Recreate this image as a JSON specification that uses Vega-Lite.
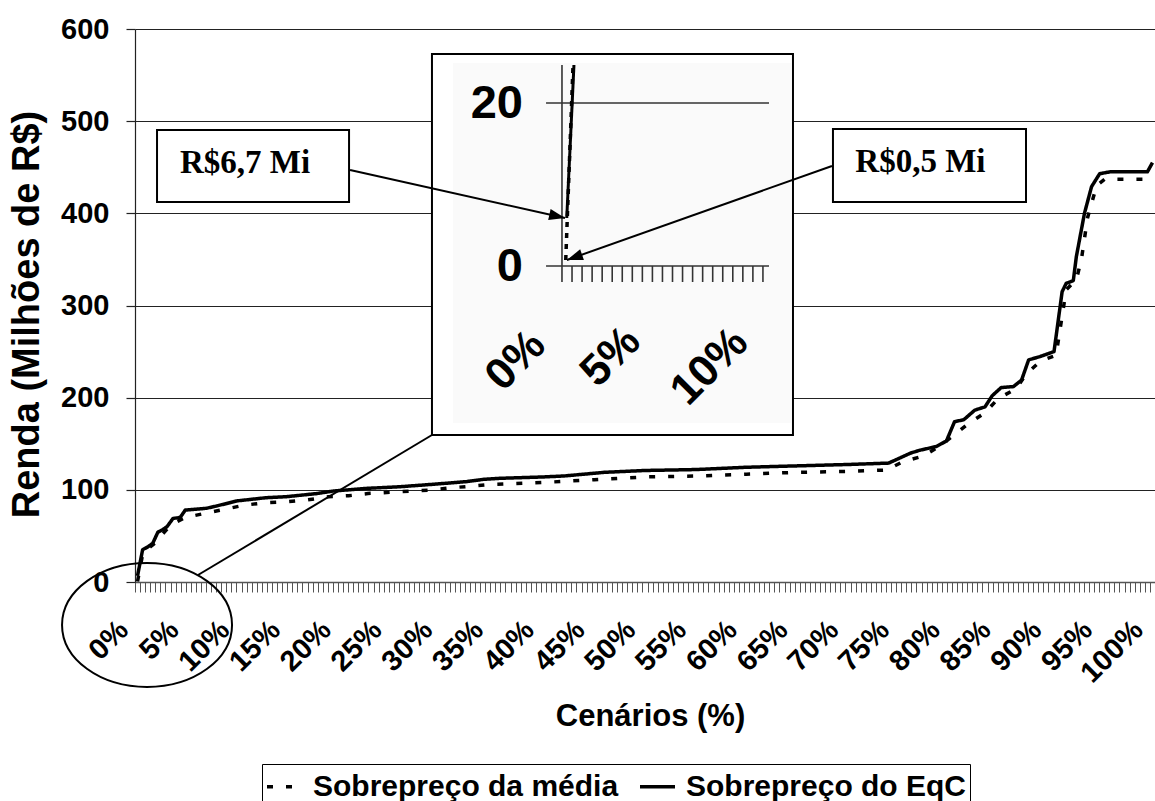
{
  "$schema": "https://vega.github.io/schema/vega-lite/v6.json",
  "autosize": {"type": "none"},
  "padding": {"left": 135, "top": 29, "right": 0, "bottom": 219},
  "width": 1020,
  "height": 553,
  "background": "white",
  "config": {"view": {"stroke": null}, "font": "Liberation Sans"},
  "datasets": {
    "serie": [
      {"x": 0, "y": 0.5, "s": "Sobrepreço da média"},
      {"x": 0.5, "y": 30, "s": "Sobrepreço da média"},
      {"x": 1, "y": 36, "s": "Sobrepreço da média"},
      {"x": 1.7, "y": 42, "s": "Sobrepreço da média"},
      {"x": 2.3, "y": 50, "s": "Sobrepreço da média"},
      {"x": 3, "y": 58.6, "s": "Sobrepreço da média"},
      {"x": 3.8, "y": 65, "s": "Sobrepreço da média"},
      {"x": 4.7, "y": 70, "s": "Sobrepreço da média"},
      {"x": 6.65, "y": 74.5, "s": "Sobrepreço da média"},
      {"x": 8.6, "y": 79, "s": "Sobrepreço da média"},
      {"x": 10.6, "y": 83.5, "s": "Sobrepreço da média"},
      {"x": 12.7, "y": 86, "s": "Sobrepreço da média"},
      {"x": 14.7, "y": 87, "s": "Sobrepreço da média"},
      {"x": 16.7, "y": 89, "s": "Sobrepreço da média"},
      {"x": 18.8, "y": 92.5, "s": "Sobrepreço da média"},
      {"x": 20.8, "y": 93.6, "s": "Sobrepreço da média"},
      {"x": 22.7, "y": 96, "s": "Sobrepreço da média"},
      {"x": 24.9, "y": 97.3, "s": "Sobrepreço da média"},
      {"x": 26.9, "y": 98.7, "s": "Sobrepreço da média"},
      {"x": 28.8, "y": 99.8, "s": "Sobrepreço da média"},
      {"x": 31, "y": 102.3, "s": "Sobrepreço da média"},
      {"x": 32.9, "y": 104, "s": "Sobrepreço da média"},
      {"x": 35, "y": 106, "s": "Sobrepreço da média"},
      {"x": 40, "y": 108, "s": "Sobrepreço da média"},
      {"x": 45, "y": 111, "s": "Sobrepreço da média"},
      {"x": 50, "y": 114, "s": "Sobrepreço da média"},
      {"x": 55, "y": 115, "s": "Sobrepreço da média"},
      {"x": 60, "y": 117, "s": "Sobrepreço da média"},
      {"x": 65, "y": 119, "s": "Sobrepreço da média"},
      {"x": 70, "y": 120, "s": "Sobrepreço da média"},
      {"x": 73.8, "y": 121.5, "s": "Sobrepreço da média"},
      {"x": 75.4, "y": 130.5, "s": "Sobrepreço da média"},
      {"x": 77.4, "y": 136.7, "s": "Sobrepreço da média"},
      {"x": 79, "y": 147, "s": "Sobrepreço da média"},
      {"x": 81.9, "y": 172, "s": "Sobrepreço da média"},
      {"x": 83.5, "y": 183.7, "s": "Sobrepreço da média"},
      {"x": 84.8, "y": 199, "s": "Sobrepreço da média"},
      {"x": 86.6, "y": 210, "s": "Sobrepreço da média"},
      {"x": 87.5, "y": 225, "s": "Sobrepreço da média"},
      {"x": 89, "y": 240, "s": "Sobrepreço da média"},
      {"x": 90.5, "y": 246, "s": "Sobrepreço da média"},
      {"x": 91.5, "y": 317, "s": "Sobrepreço da média"},
      {"x": 92.5, "y": 328, "s": "Sobrepreço da média"},
      {"x": 93, "y": 350, "s": "Sobrepreço da média"},
      {"x": 93.6, "y": 395, "s": "Sobrepreço da média"},
      {"x": 94.5, "y": 430, "s": "Sobrepreço da média"},
      {"x": 95.3, "y": 437, "s": "Sobrepreço da média"},
      {"x": 100, "y": 437, "s": "Sobrepreço da média"},
      {"x": 0, "y": 6.7, "s": "Sobrepreço do EqC"},
      {"x": 0.5, "y": 35, "s": "Sobrepreço do EqC"},
      {"x": 1, "y": 38, "s": "Sobrepreço do EqC"},
      {"x": 1.5, "y": 42, "s": "Sobrepreço do EqC"},
      {"x": 2, "y": 54, "s": "Sobrepreço do EqC"},
      {"x": 2.5, "y": 57, "s": "Sobrepreço do EqC"},
      {"x": 2.9, "y": 60, "s": "Sobrepreço do EqC"},
      {"x": 3.5, "y": 69, "s": "Sobrepreço do EqC"},
      {"x": 4.2, "y": 70, "s": "Sobrepreço do EqC"},
      {"x": 4.7, "y": 78, "s": "Sobrepreço do EqC"},
      {"x": 6.8, "y": 80, "s": "Sobrepreço do EqC"},
      {"x": 7.8, "y": 82.5, "s": "Sobrepreço do EqC"},
      {"x": 9.8, "y": 88, "s": "Sobrepreço do EqC"},
      {"x": 12.7, "y": 91.5, "s": "Sobrepreço do EqC"},
      {"x": 14.7, "y": 92.6, "s": "Sobrepreço do EqC"},
      {"x": 17.7, "y": 96, "s": "Sobrepreço do EqC"},
      {"x": 19.3, "y": 98.7, "s": "Sobrepreço do EqC"},
      {"x": 22.6, "y": 101.6, "s": "Sobrepreço do EqC"},
      {"x": 25.9, "y": 103.4, "s": "Sobrepreço do EqC"},
      {"x": 29.1, "y": 106, "s": "Sobrepreço do EqC"},
      {"x": 32.4, "y": 108.9, "s": "Sobrepreço do EqC"},
      {"x": 34.1, "y": 111.4, "s": "Sobrepreço do EqC"},
      {"x": 35.7, "y": 112.5, "s": "Sobrepreço do EqC"},
      {"x": 40, "y": 114, "s": "Sobrepreço do EqC"},
      {"x": 42, "y": 115, "s": "Sobrepreço do EqC"},
      {"x": 44, "y": 117, "s": "Sobrepreço do EqC"},
      {"x": 46, "y": 119, "s": "Sobrepreço do EqC"},
      {"x": 48, "y": 120, "s": "Sobrepreço do EqC"},
      {"x": 50, "y": 121, "s": "Sobrepreço do EqC"},
      {"x": 55, "y": 122, "s": "Sobrepreço do EqC"},
      {"x": 60, "y": 124.5, "s": "Sobrepreço do EqC"},
      {"x": 65, "y": 126, "s": "Sobrepreço do EqC"},
      {"x": 70, "y": 127.5, "s": "Sobrepreço do EqC"},
      {"x": 74, "y": 129, "s": "Sobrepreço do EqC"},
      {"x": 76.2, "y": 140, "s": "Sobrepreço do EqC"},
      {"x": 77.1, "y": 143, "s": "Sobrepreço do EqC"},
      {"x": 78.7, "y": 147, "s": "Sobrepreço do EqC"},
      {"x": 79.7, "y": 153, "s": "Sobrepreço do EqC"},
      {"x": 80.5, "y": 174, "s": "Sobrepreço do EqC"},
      {"x": 81.4, "y": 176, "s": "Sobrepreço do EqC"},
      {"x": 82.5, "y": 186.5, "s": "Sobrepreço do EqC"},
      {"x": 83.5, "y": 190, "s": "Sobrepreço do EqC"},
      {"x": 84.2, "y": 202, "s": "Sobrepreço do EqC"},
      {"x": 85.1, "y": 211, "s": "Sobrepreço do EqC"},
      {"x": 86.3, "y": 212, "s": "Sobrepreço do EqC"},
      {"x": 87.1, "y": 219, "s": "Sobrepreço do EqC"},
      {"x": 87.8, "y": 241, "s": "Sobrepreço do EqC"},
      {"x": 88.9, "y": 244.5, "s": "Sobrepreço do EqC"},
      {"x": 90.3, "y": 250, "s": "Sobrepreço do EqC"},
      {"x": 91.1, "y": 315, "s": "Sobrepreço do EqC"},
      {"x": 91.5, "y": 324, "s": "Sobrepreço do EqC"},
      {"x": 92.2, "y": 327, "s": "Sobrepreço do EqC"},
      {"x": 92.5, "y": 353, "s": "Sobrepreço do EqC"},
      {"x": 93.3, "y": 400, "s": "Sobrepreço do EqC"},
      {"x": 94, "y": 429, "s": "Sobrepreço do EqC"},
      {"x": 94.8, "y": 443, "s": "Sobrepreço do EqC"},
      {"x": 95.8, "y": 445, "s": "Sobrepreço do EqC"},
      {"x": 99.5, "y": 445, "s": "Sobrepreço do EqC"},
      {"x": 100, "y": 455, "s": "Sobrepreço do EqC"}
    ],
    "insetRules": [
      {"x": 41.82, "y": 325.5, "x2": 41.82, "y2": 560.9},
      {"x": 40.25, "y": 519.7, "x2": 62.22, "y2": 519.7},
      {"x": 40.25, "y": 342.9, "x2": 62.22, "y2": 342.9},
      {"x": 42.81, "y": 325.5, "x2": 42.81, "y2": 342.9},
      {"x": 43.8, "y": 325.5, "x2": 43.8, "y2": 342.9},
      {"x": 44.79, "y": 325.5, "x2": 44.79, "y2": 342.9},
      {"x": 45.78, "y": 325.5, "x2": 45.78, "y2": 342.9},
      {"x": 46.77, "y": 325.5, "x2": 46.77, "y2": 342.9},
      {"x": 47.76, "y": 325.5, "x2": 47.76, "y2": 342.9},
      {"x": 48.75, "y": 325.5, "x2": 48.75, "y2": 342.9},
      {"x": 49.74, "y": 325.5, "x2": 49.74, "y2": 342.9},
      {"x": 50.73, "y": 325.5, "x2": 50.73, "y2": 342.9},
      {"x": 51.72, "y": 325.5, "x2": 51.72, "y2": 342.9},
      {"x": 52.71, "y": 325.5, "x2": 52.71, "y2": 342.9},
      {"x": 53.7, "y": 325.5, "x2": 53.7, "y2": 342.9},
      {"x": 54.69, "y": 325.5, "x2": 54.69, "y2": 342.9},
      {"x": 55.68, "y": 325.5, "x2": 55.68, "y2": 342.9},
      {"x": 56.67, "y": 325.5, "x2": 56.67, "y2": 342.9},
      {"x": 57.66, "y": 325.5, "x2": 57.66, "y2": 342.9},
      {"x": 58.65, "y": 325.5, "x2": 58.65, "y2": 342.9},
      {"x": 59.64, "y": 325.5, "x2": 59.64, "y2": 342.9},
      {"x": 60.63, "y": 325.5, "x2": 60.63, "y2": 342.9},
      {"x": 61.62, "y": 325.5, "x2": 61.62, "y2": 342.9}
    ]
  },
  "encoding": {
    "x": {
      "field": "x", "type": "quantitative",
      "scale": {"domain": [-0.25, 100.25], "nice": false, "zero": false},
      "axis": {
        "title": "Cenários (%)",
        "values": {"expr": "sequence(-0.25, 100.3, 0.5)"},
        "labelExpr": "(datum.value + 0.25) % 5 === 0 ? (datum.value + 0.25) + '%' : ''",
        "grid": false,
        "domainColor": "#555", "domainWidth": 1.5,
        "tickColor": "#555", "tickWidth": 1, "tickSize": 10,
        "labelAngle": -45, "labelAlign": "right", "labelBaseline": "middle",
        "labelPadding": 33, "labelOffset": -12,
        "labelFont": "Liberation Sans", "labelFontWeight": "bold", "labelFontSize": 29, "labelColor": "black",
        "labelOverlap": false, "labelFlush": false, "labelBound": false,
        "titleFont": "Liberation Sans", "titleFontWeight": "bold", "titleFontSize": 31, "titleColor": "black",
        "titleX": 515, "titleY": 134, "titleAlign": "center", "titleBaseline": "middle", "titleAnchor": null
      }
    },
    "y": {
      "field": "y", "type": "quantitative",
      "scale": {"domain": [0, 600], "nice": false, "zero": false},
      "axis": {
        "title": "Renda (Milhões de R$)",
        "values": [0, 100, 200, 300, 400, 500, 600],
        "grid": true, "gridColor": "#222", "gridWidth": 1.2,
        "domainColor": "#222", "domainWidth": 1.2,
        "tickColor": "#222", "tickWidth": 1.2, "tickSize": 9,
        "labelPadding": 17,
        "labelFont": "Liberation Sans", "labelFontWeight": "bold", "labelFontSize": 29, "labelColor": "black",
        "labelOverlap": false, "labelFlush": false, "labelBound": false,
        "titleFont": "Liberation Sans", "titleFontWeight": "bold", "titleFontSize": 38, "titleColor": "black",
        "titleX": -108, "titleY": 285, "titleAngle": -90, "titleAlign": "center", "titleBaseline": "middle"
      }
    }
  },
  "layer": [
    {
      "data": {"name": "serie"},
      "mark": {"type": "line", "color": "black", "strokeWidth": 3.5, "strokeCap": "butt", "strokeJoin": "round"},
      "encoding": {
        "strokeDash": {
          "field": "s", "type": "nominal",
          "scale": {"domain": ["Sobrepreço da média", "Sobrepreço do EqC"], "range": [[6, 13], [1, 0]]},
          "legend": {
            "title": null, "orient": "none", "legendX": 127, "legendY": 735, "direction": "horizontal",
            "strokeColor": "black", "padding": 3,
            "labelFont": "Liberation Sans", "labelFontSize": 30, "labelFontWeight": "bold", "labelColor": "black",
            "labelLimit": 1000, "labelOffset": 9,
            "symbolType": "stroke", "symbolSize": 1225, "symbolStrokeWidth": 3.5, "symbolStrokeColor": "black",
            "columnPadding": 14
          }
        }
      }
    },
    {
      "data": {"values": [{"x": 29.01, "x2": 64.58, "y": 159.5, "y2": 572.9}]},
      "mark": {"type": "rect", "fill": "white", "stroke": "black", "strokeWidth": 2},
      "encoding": {"x2": {"field": "x2"}, "y2": {"field": "y2"}}
    },
    {
      "data": {"values": [{"x": 31.08, "x2": 64.38, "y": 172.5, "y2": 563.1}]},
      "mark": {"type": "rect", "fill": "#fafafa", "strokeWidth": 0},
      "encoding": {"x2": {"field": "x2"}, "y2": {"field": "y2"}}
    },
    {
      "data": {"name": "insetRules"},
      "mark": {"type": "rule", "color": "#333", "strokeWidth": 1.6},
      "encoding": {"x2": {"field": "x2"}, "y2": {"field": "y2"}}
    },
    {
      "data": {"values": [{"x": 42.19, "y": 349.4}, {"x": 42.91, "y": 560.9}]},
      "mark": {"type": "line", "color": "black", "strokeWidth": 3.5, "strokeDash": [5, 6]},
      "encoding": {}
    },
    {
      "data": {"values": [{"x": 42.29, "y": 394.9}, {"x": 43.0, "y": 560.9}]},
      "mark": {"type": "line", "color": "black", "strokeWidth": 3},
      "encoding": {}
    },
    {
      "data": {"values": [{"x": 37.98, "y": 518.6, "t": "20"}, {"x": 37.98, "y": 341.8, "t": "0"}]},
      "mark": {"type": "text", "font": "Liberation Sans", "fontWeight": "bold", "fontSize": 47, "align": "right", "baseline": "middle", "color": "black"},
      "encoding": {"text": {"field": "t"}}
    },
    {
      "data": {"values": [{"x": 37.29, "y": 239.8, "t": "0%"}, {"x": 46.65, "y": 244.1, "t": "5%"}, {"x": 56.4, "y": 233.3, "t": "10%"}]},
      "mark": {"type": "text", "font": "Liberation Sans", "fontWeight": "bold", "fontSize": 44, "align": "center", "baseline": "middle", "angle": -45, "color": "black"},
      "encoding": {"text": {"field": "t"}}
    },
    {
      "data": {"values": [
        {"x": 1.92, "x2": 20.84, "y": 412.3, "y2": 490.4},
        {"x": 68.52, "x2": 87.54, "y": 412.3, "y2": 491.5}
      ]},
      "mark": {"type": "rect", "fill": "white", "stroke": "black", "strokeWidth": 2},
      "encoding": {"x2": {"field": "x2"}, "y2": {"field": "y2"}}
    },
    {
      "data": {"values": [{"x": 10.59, "y": 454.6, "t": "R$6,7 Mi"}, {"x": 77.14, "y": 455.7, "t": "R$0,5 Mi"}]},
      "mark": {"type": "text", "font": "Liberation Serif", "fontWeight": "bold", "fontSize": 33, "align": "center", "baseline": "middle", "color": "black"},
      "encoding": {"text": {"field": "t"}}
    },
    {
      "data": {"values": [
        {"x": 20.94, "y": 447.0, "x2": 42.12, "y2": 394.9},
        {"x": 68.42, "y": 451.4, "x2": 42.31, "y2": 349.4},
        {"x": 5.96, "y": 7.6, "x2": 29.01, "y2": 159.5}
      ]},
      "mark": {"type": "rule", "color": "black", "strokeWidth": 2},
      "encoding": {"x2": {"field": "x2"}, "y2": {"field": "y2"}}
    },
    {
      "data": {"values": [{"x": 42.12, "y": 394.9}]},
      "mark": {"type": "point", "shape": "M 0 0 L -2 -0.7 L -2 0.7 Z", "filled": true, "color": "black", "size": 256, "angle": 12.6, "opacity": 1},
      "encoding": {}
    },
    {
      "data": {"values": [{"x": 42.31, "y": 349.4}]},
      "mark": {"type": "point", "shape": "M 0 0 L -2 -0.7 L -2 0.7 Z", "filled": true, "color": "black", "size": 256, "angle": 160.5, "opacity": 1},
      "encoding": {}
    },
    {
      "data": {"values": [{"x": 0.936, "y": -46.65}]},
      "mark": {"type": "point", "shape": "M 1 0 C 1 0.4027 0.5523 0.729 0 0.729 C -0.5523 0.729 -1 0.4027 -1 0 C -1 -0.4027 -0.5523 -0.729 0 -0.729 C 0.5523 -0.729 1 -0.4027 1 0 Z", "filled": false, "stroke": "black", "strokeWidth": 2, "size": 28900, "opacity": 1},
      "encoding": {}
    }
  ]
}
